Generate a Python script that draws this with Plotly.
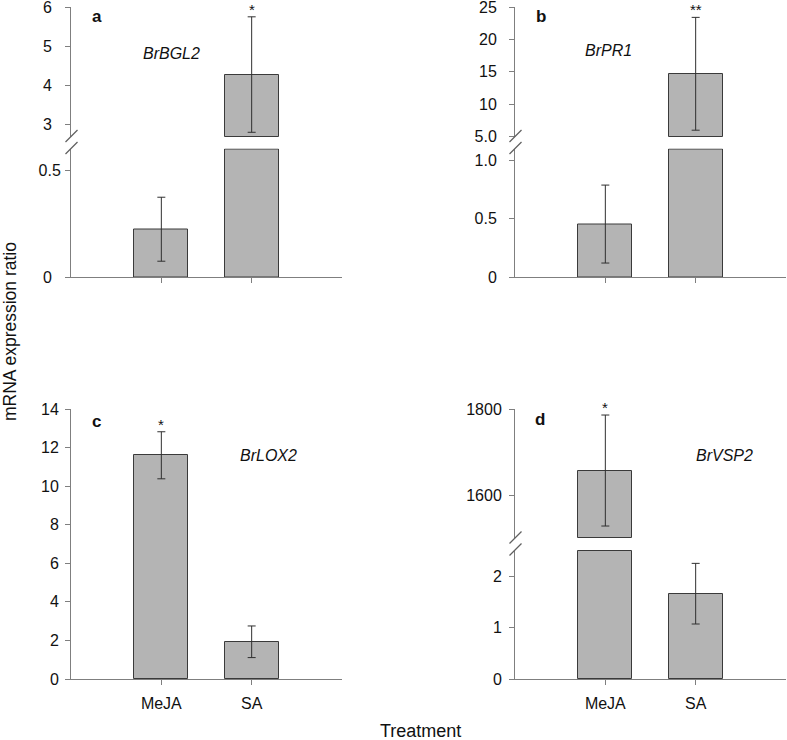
import plotly.graph_objects as go

W, H = 787, 740

categories = ["MeJA", "SA"]

# Panel a: BrBGL2 (broken axis)
a_mean = [0.224, 4.28]
a_err = [0.15, 1.47]
a_sig = ["", "*"]
# Panel b: BrPR1 (broken axis)
b_mean = [0.455, 14.7]
b_err = [0.335, 8.7]
b_sig = ["", "**"]
# Panel c: BrLOX2
c_mean = [11.6, 1.93]
c_err = [1.22, 0.82]
c_sig = ["*", ""]
# Panel d: BrVSP2 (broken axis)
d_mean = [1657, 1.66]
d_err = [129, 0.59]
d_sig = ["*", ""]

# tick labels
NB = "\u00a0"
a_low_ticks = [0, 0.5]; a_low_text = ["0" + NB * 2, "0.5"]
a_up_ticks = [3, 4, 5, 6]; a_up_text = ["3", "4", "5", "6"]
b_low_ticks = [0, 0.5, 1.0]; b_low_text = ["0", "0.5", "1.0"]
b_up_ticks = [5, 10, 15, 20, 25]; b_up_text = ["5.0", "10", "15", "20", "25"]
c_ticks = [0, 2, 4, 6, 8, 10, 12, 14]
d_low_ticks = [0, 1, 2]; d_low_text = ["0", "1", "2"]
d_up_ticks = [1600, 1800]; d_up_text = ["1600", "1800"]

FONT = "Arial, Liberation Sans, sans-serif"
BAR_FILL = "#b4b4b4"
BAR_LINE = "#3a3a3a"
AX = "#7f7f7f"
ERR = "#303030"


def ydom(top_px, bot_px):
    return [1 - bot_px / H, 1 - top_px / H]


def xdom(l_px, r_px):
    return [l_px / W, r_px / W]


fig = go.Figure()

XL = xdom(71, 342)
XR = xdom(515, 786)


def add_bar(xa, ya, x, y, base=None):
    fig.add_trace(go.Bar(
        x=x, y=y, base=base, xaxis=xa, yaxis=ya, width=0.6,
        marker=dict(color=BAR_FILL, line=dict(color=BAR_LINE, width=1)),
        showlegend=False, hoverinfo="skip"))


def add_err(xa, ya, x, y, e):
    if not x:
        return
    fig.add_trace(go.Scatter(
        x=x, y=y, xaxis=xa, yaxis=ya, mode="markers",
        marker=dict(size=0.1, color="rgba(0,0,0,0)"),
        error_y=dict(type="data", array=e, color=ERR, thickness=1, width=4),
        showlegend=False, hoverinfo="skip"))


def broken_panel(xa, ylo, yup, mean, err, lo_top, up_bot):
    # lower segment
    add_bar(xa, ylo, categories, [min(v, lo_top) for v in mean])
    sel = [i for i, v in enumerate(mean) if v <= lo_top]
    add_err(xa, ylo, [categories[i] for i in sel], [mean[i] for i in sel], [err[i] for i in sel])
    # upper segment
    sel = [i for i, v in enumerate(mean) if v > up_bot]
    add_bar(xa, yup, [categories[i] for i in sel], [mean[i] - up_bot for i in sel], base=[up_bot] * len(sel))
    add_err(xa, yup, [categories[i] for i in sel], [mean[i] for i in sel], [err[i] for i in sel])


# panel a
A_LO, A_UP = 0.6, 2.7
broken_panel("x", "y", "y2", a_mean, a_err, A_LO, A_UP)
# panel b
B_LO, B_UP = 1.1, 5.0
broken_panel("x2", "y3", "y4", b_mean, b_err, B_LO, B_UP)
# panel c
add_bar("x3", "y5", categories, c_mean)
add_err("x3", "y5", categories, c_mean, c_err)
# panel d
D_LO, D_UP = 2.5, 1500
broken_panel("x4", "y6", "y7", d_mean, d_err, D_LO, D_UP)

tickfont = dict(family=FONT, size=16, color="#111")


def yax(dom, rng, tv, tt, anchor, standoff):
    return dict(domain=dom, range=rng, tickvals=tv, ticktext=tt, anchor=anchor,
                showline=True, linecolor=AX, linewidth=1, ticks="outside", ticklen=5,
                tickcolor=AX, showgrid=False, zeroline=False, tickfont=tickfont,
                ticklabelstandoff=standoff, ticklabeloverflow="allow",
                fixedrange=True, automargin=False)


def xax(dom, anchor, labels):
    return dict(domain=dom, anchor=anchor, type="category", range=[-1, 2],
                showline=True, linecolor=AX, linewidth=1, ticks="outside", ticklen=5,
                tickcolor=AX, showgrid=False, zeroline=False, tickfont=tickfont,
                showticklabels=labels, ticklabelstandoff=5, ticklabeloverflow="allow",
                fixedrange=True, automargin=False)


fig.update_layout(
    width=W, height=H, margin=dict(l=0, r=0, t=0, b=0, autoexpand=False),
    paper_bgcolor="white", plot_bgcolor="rgba(0,0,0,0)",
    bargap=0, showlegend=False,
    font=dict(family=FONT, color="#111"),
    xaxis=xax(XL, "y", False),
    xaxis2=xax(XR, "y3", False),
    xaxis3=xax(XL, "y5", True),
    xaxis4=xax(XR, "y6", True),
    yaxis=yax(ydom(148.5, 277), [0, A_LO * 1.004], a_low_ticks, a_low_text, "x", 1),
    yaxis2=yax(ydom(7, 137), [A_UP - 0.01, 6], a_up_ticks, a_up_text, "x", 10),
    yaxis3=yax(ydom(148.5, 277), [0, B_LO * 1.004], b_low_ticks, b_low_text, "x2", 9),
    yaxis4=yax(ydom(7, 137), [B_UP - 0.05, 25], b_up_ticks, b_up_text, "x2", 9),
    yaxis5=yax(ydom(409, 679), [0, 14], c_ticks, [str(t) for t in c_ticks], "x3", 3),
    yaxis6=yax(ydom(550, 679), [0, D_LO * 1.004], d_low_ticks, d_low_text, "x4", 4),
    yaxis7=yax(ydom(409, 538.5), [D_UP - 1, 1800], d_up_ticks, d_up_text, "x4", 4),
)

ann = []
# significance stars
for xa, ya, mean, err, sig in [("x", "y2", a_mean, a_err, a_sig), ("x2", "y4", b_mean, b_err, b_sig),
                               ("x3", "y5", c_mean, c_err, c_sig), ("x4", "y7", d_mean, d_err, d_sig)]:
    for i, s in enumerate(sig):
        if s:
            ann.append(dict(x=categories[i], y=mean[i] + err[i], xref=xa, yref=ya, text=s,
                            showarrow=False, yanchor="bottom", yshift=-3,
                            font=dict(family=FONT, size=15, color="#111")))

# panel letters and gene names (pixel positions)
def pann(text, xpx, ypx, size, bold=False, italic=False, angle=0):
    if bold:
        text = "<b>" + text + "</b>"
    if italic:
        text = "<i>" + text + "</i>"
    ann.append(dict(x=xpx / W, y=1 - ypx / H, xref="paper", yref="paper", text=text,
                    showarrow=False, xanchor="center", yanchor="middle", textangle=angle,
                    font=dict(family=FONT, size=size, color="#111")))


pann("a", 97, 16, 17, bold=True)
pann("b", 541, 17, 17, bold=True)
pann("c", 96, 422, 17, bold=True)
pann("d", 540, 419, 17, bold=True)
pann("BrBGL2", 171, 53, 16, italic=True)
pann("BrPR1", 608, 51, 16, italic=True)
pann("BrLOX2", 268, 455, 16, italic=True)
pann("BrVSP2", 724, 455, 16, italic=True)
pann("mRNA expression ratio", 10, 332, 17.5, angle=-90)
pann("Treatment", 420, 731, 18)
fig.update_layout(annotations=ann)

# axis break marks
shapes = []
for x0, up_bot, lo_top in [(71, 137, 148.5), (515, 137, 148.5), (515, 538.5, 550)]:
    for yc in (up_bot - 1, lo_top - 0.5):
        shapes.append(dict(type="line", xref="paper", yref="paper",
                           x0=(x0 - 5.5) / W, x1=(x0 + 6.5) / W,
                           y0=1 - (yc + 6) / H, y1=1 - (yc - 6) / H,
                           line=dict(color="#606060", width=1.2)))
fig.update_layout(shapes=shapes)

fig.write_html("out.html", config={"displayModeBar": False},
               post_script="document.body.style.margin='0';document.body.style.overflow='hidden';")
